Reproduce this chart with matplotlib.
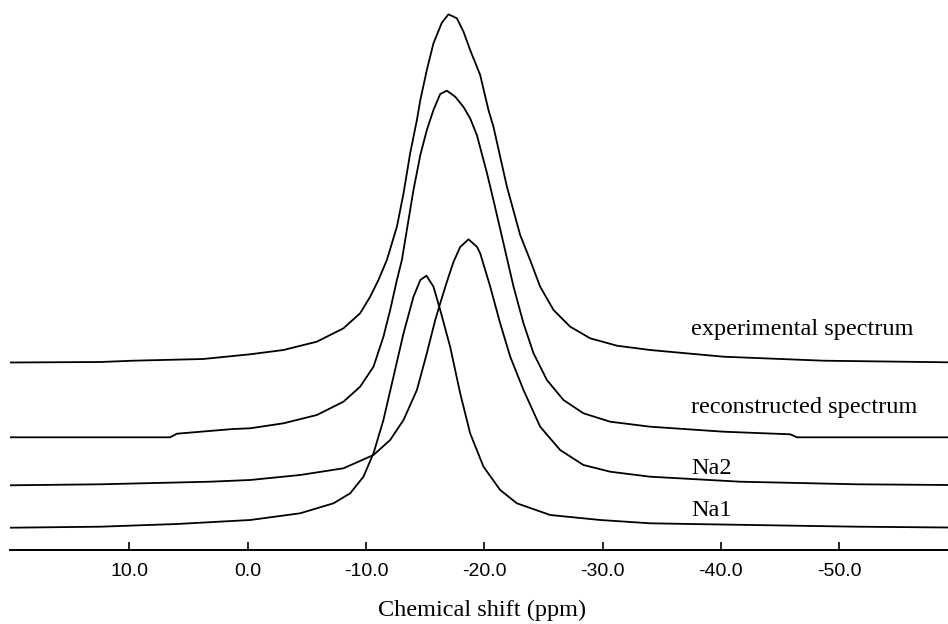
import matplotlib
matplotlib.use("Agg")
import matplotlib.pyplot as plt

# chemical shift (ppm) and intensity above each trace's own baseline (a.u.)
exp_ppm = [20.09, 12.48, 9.69, 3.77, -0.20, -3.02, -5.84, -8.09, -9.50, -10.35,
           -11.05, -11.76, -12.61, -13.17, -13.73, -14.30, -14.59, -15.14, -15.70,
           -16.41, -16.97, -17.68, -18.24, -18.80, -19.65, -20.35, -20.77, -21.91,
           -23.03, -23.87, -24.72, -25.85, -27.26, -28.95, -31.21, -34.02, -40.22,
           -48.67, -59.22]
exp_int = [0.0, 0.5, 1.8, 3.5, 8.2, 12.5, 20.8, 34.2, 49.2, 65.8,
           82.5, 102.5, 135.8, 169.2, 209.2, 242.5, 262.5, 292.5, 319.2,
           339.8, 348.2, 344.2, 330.8, 312.5, 287.5, 252.5, 235.8, 175.8,
           127.5, 102.5, 75.8, 52.5, 35.8, 24.2, 16.8, 12.5, 5.8,
           1.8, 0.2]

rec_ppm = [20.09, 6.56, 5.99, 1.23, -0.20, -3.02, -5.84, -8.09, -9.50, -10.63,
           -11.47, -12.04, -12.61, -13.03, -13.45, -14.01, -14.59, -15.14, -15.70,
           -16.27, -16.83, -17.54, -18.24, -18.80, -19.37, -20.22, -20.77, -21.62,
           -22.47, -23.31, -24.16, -25.29, -26.69, -28.38, -30.64, -34.02, -40.22,
           -45.86, -46.43, -59.22]
rec_int = [0.0, 0.0, 3.6, 8.3, 9.0, 14.0, 22.3, 35.6, 50.6, 70.6,
           100.6, 127.3, 157.3, 177.3, 207.3, 247.3, 282.3, 307.3, 327.3,
           343.3, 346.6, 340.6, 330.3, 319.0, 302.3, 264.3, 237.3, 194.0,
           150.6, 114.0, 84.0, 57.3, 37.3, 24.0, 15.6, 10.6, 5.6,
           3.0, 0.0, 0.0]

na2_ppm = [20.09, 12.48, 3.18, -0.20, -4.43, -8.09, -10.63, -12.04, -13.17, -14.30,
           -15.14, -15.85, -16.27, -16.83, -17.39, -17.96, -18.66, -19.37, -19.65,
           -20.50, -21.34, -22.19, -23.31, -24.72, -26.41, -28.38, -30.64, -34.02,
           -41.63, -51.50, -59.22]
na2_int = [0.0, 1.0, 3.6, 5.3, 10.3, 17.0, 30.3, 45.3, 65.3, 95.3,
           132.0, 165.3, 182.0, 203.3, 223.3, 238.3, 246.0, 238.6, 232.0,
           198.6, 162.0, 128.6, 95.3, 58.6, 35.3, 20.3, 13.6, 8.6,
           3.6, 1.0, 0.3]

na1_ppm = [20.09, 12.48, 5.99, -0.20, -4.43, -7.25, -8.66, -9.78, -10.63, -11.47,
           -12.32, -13.17, -14.01, -14.59, -15.11, -15.70, -16.27, -17.11, -17.96,
           -18.80, -19.93, -21.34, -22.75, -25.57, -29.80, -34.02, -37.40, -51.50,
           -59.22]
na1_int = [0.0, 1.0, 3.7, 7.7, 14.4, 24.4, 34.4, 51.0, 74.4, 107.7,
           151.0, 194.4, 231.0, 247.7, 252.0, 241.0, 217.7, 181.0, 134.4,
           94.4, 61.0, 37.7, 24.4, 12.7, 7.7, 4.4, 3.7, 1.0,
           0.2]

labels = ["experimental spectrum", "reconstructed spectrum", "Na2", "Na1"]
offsets = [187.5, 112.7, 64.7, 22.3]
label_y = [221, 142, 82, 40]
ticks = [10, 0, -10, -20, -30, -40, -50]

fig = plt.figure(figsize=(9.48, 6.24), dpi=100)
ax = fig.add_axes([10 / 948, 1 - 550 / 624, 938 / 948, 550 / 624])

curves = [(exp_ppm, exp_int), (rec_ppm, rec_int), (na2_ppm, na2_int), (na1_ppm, na1_int)]
for (xs, ys), off in zip(curves, offsets):
    ax.plot(xs, [v + off for v in ys], color="black", lw=1.3, solid_joinstyle="round")

for name, ly in zip(labels, label_y):
    ax.text(-37.5, ly, name, fontsize=17.5, family="Liberation Serif", va="center", ha="left")

ax.set_xlim(20.1, -59.2)
ax.set_ylim(0, 550)
for side in ["top", "right", "left"]:
    ax.spines[side].set_visible(False)
ax.spines["bottom"].set_linewidth(1.4)
ax.set_yticks([])
ax.set_xticks(ticks)
ax.set_xticklabels([f"{t:.1f}" for t in ticks], family="Liberation Sans", fontsize=14)
ax.tick_params(axis="x", direction="in", length=6, width=1.2, pad=9.5)

fig.text(482.5 / 948, 1 - 610 / 624, "Chemical shift (ppm)", fontsize=17.5,
         family="Liberation Serif", ha="center", va="center")

fig.savefig("out.png", dpi=100)
